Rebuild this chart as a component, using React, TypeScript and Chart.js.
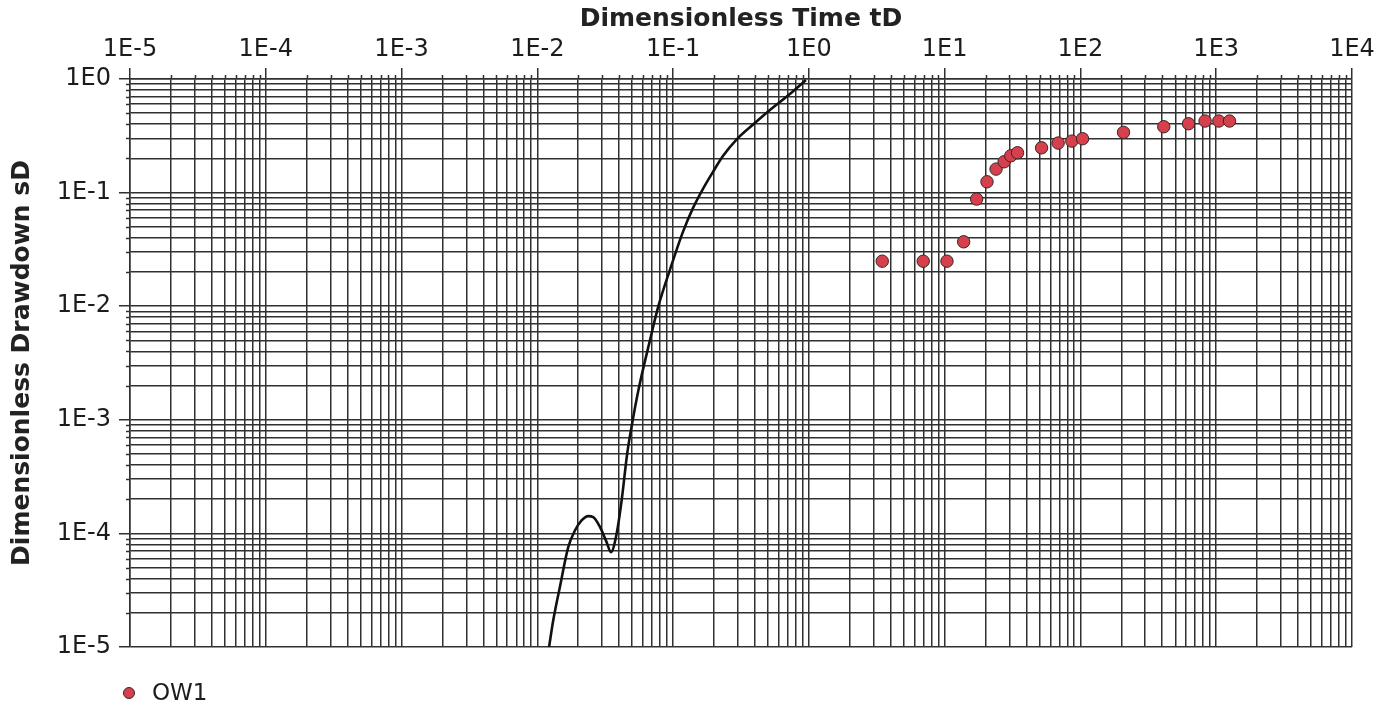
import React, { useEffect, useRef } from 'react';
import { Chart, registerables } from 'chart.js';

Chart.register(...registerables);

// Axis decades (powers of ten) and their printed labels
const X_DECADES = [-5, -4, -3, -2, -1, 0, 1, 2, 3, 4];
const X_TICK_LABELS = ['1E-5', '1E-4', '1E-3', '1E-2', '1E-1', '1E0', '1E1', '1E2', '1E3', '1E4'];
const Y_DECADES = [-5, -4, -3, -2, -1, 0];
const Y_TICK_LABELS = ['1E-5', '1E-4', '1E-3', '1E-2', '1E-1', '1E0'];

// Observation well OW1: dimensionless time and drawdown
const OW1_TD = [3.47, 6.95, 10.4, 13.8, 17.2, 20.5, 23.9, 27.4, 30.7, 34.4, 51.7, 68.5, 86.4, 103.6, 207.6, 411, 625, 828, 1045, 1253];
const OW1_SD = [0.0249, 0.0249, 0.0249, 0.0369, 0.0877, 0.1245, 0.161, 0.1867, 0.211, 0.2243, 0.248, 0.273, 0.284, 0.298, 0.339, 0.38, 0.404, 0.4266, 0.4266, 0.4266];

// Type curve
const CURVE_TD = [
  0.0122, 0.01309, 0.01465, 0.01689, 0.01892, 0.02118, 0.02371, 0.02582, 0.02891, 0.03236, 0.03483, 0.03837,
  0.04178, 0.0459, 0.0504, 0.0562, 0.0675, 0.0776, 0.0946, 0.118, 0.14, 0.1656, 0.1963, 0.2328, 0.2952,
  0.3996, 0.5164, 0.7244, 0.951,
];
const CURVE_SD = [
  1.0e-5, 1.71e-5, 3.36e-5, 7.57e-5, 1.06e-4, 1.3e-4, 1.42e-4, 1.39e-4, 1.14e-4, 8.38e-5, 6.84e-5, 9.94e-5,
  1.95e-4, 5.04e-4, 9.9e-4, 1.95e-3, 5.0e-3, 9.86e-3, 2.08e-2, 0.0449, 0.073, 0.1074, 0.1516, 0.2098, 0.2959,
  0.4094, 0.533, 0.738, 0.98,
];

const FONT = '"DejaVu Sans", Verdana, sans-serif';
const GRID = '#303030';
const TEXT = '#1c1c1c';
const POINT_FILL = '#d63f4c';
const POINT_EDGE = '#3a2626';

const isDecade = (v: number) => Math.abs(Math.log10(v) - Math.round(Math.log10(v))) < 1e-9;

// 1..9 x 10^e for every decade, closing with the last power of ten
function decadeTicks(decades: number[]) {
  const ticks: { value: number; major: boolean }[] = [];
  for (let i = 0; i < decades.length - 1; i++) {
    for (let k = 1; k <= 9; k++) {
      ticks.push({ value: Number((k * Math.pow(10, decades[i])).toPrecision(12)), major: k === 1 });
    }
  }
  ticks.push({ value: Math.pow(10, decades[decades.length - 1]), major: true });
  return ticks;
}

function labelFor(v: number, decades: number[], labels: string[]) {
  if (!isDecade(v)) return '';
  const idx = decades.indexOf(Math.round(Math.log10(v)));
  return idx >= 0 ? labels[idx] : '';
}

// Short outside stubs for the minor (2..9) grid lines
const minorStubs = {
  id: 'minorStubs',
  afterDraw(chart: any) {
    const { ctx, chartArea, scales } = chart;
    ctx.save();
    ctx.strokeStyle = GRID;
    ctx.lineWidth = 1.5;
    ctx.beginPath();
    scales.x.ticks.forEach((t: any) => {
      if (isDecade(t.value)) return;
      const px = Math.round(scales.x.getPixelForValue(t.value)) + 0.5;
      ctx.moveTo(px, chartArea.top - 4);
      ctx.lineTo(px, chartArea.top);
    });
    scales.y.ticks.forEach((t: any) => {
      if (isDecade(t.value)) return;
      const py = Math.round(scales.y.getPixelForValue(t.value)) + 0.5;
      ctx.moveTo(chartArea.left - 4, py);
      ctx.lineTo(chartArea.left, py);
    });
    ctx.stroke();
    ctx.restore();
  },
};

// Legend entry for the observation series, under the plot
const wellLegend = {
  id: 'wellLegend',
  afterDraw(chart: any) {
    const { ctx, chartArea } = chart;
    const ds = chart.data.datasets[1];
    const cx = chartArea.left - 1;
    const cy = chartArea.bottom + 46;
    ctx.save();
    ctx.beginPath();
    ctx.arc(cx, cy, 5.5, 0, Math.PI * 2);
    ctx.fillStyle = ds.backgroundColor;
    ctx.fill();
    ctx.lineWidth = 1;
    ctx.strokeStyle = ds.borderColor;
    ctx.stroke();
    ctx.font = `23px ${FONT}`;
    ctx.fillStyle = TEXT;
    ctx.textBaseline = 'middle';
    ctx.textAlign = 'left';
    ctx.fillText(ds.label, cx + 23, cy + 1);
    ctx.restore();
  },
};

export default function App() {
  const ref = useRef<HTMLCanvasElement>(null);

  useEffect(() => {
    if (!ref.current) return;
    const chart = new Chart(ref.current, {
      type: 'scatter',
      data: {
        datasets: [
          {
            label: 'Type curve',
            data: CURVE_TD.map((t, i) => ({ x: t, y: CURVE_SD[i] })),
            showLine: true,
            borderColor: '#111111',
            borderWidth: 2.6,
            pointRadius: 0,
            cubicInterpolationMode: 'monotone',
            fill: false,
            order: 2,
          },
          {
            label: 'OW1',
            data: OW1_TD.map((t, i) => ({ x: t, y: OW1_SD[i] })),
            showLine: false,
            backgroundColor: POINT_FILL,
            borderColor: POINT_EDGE,
            borderWidth: 1,
            pointRadius: 6.2,
            order: 1,
          },
        ],
      },
      options: {
        responsive: false,
        animation: false,
        layout: { padding: { left: 0, top: 0, right: 40, bottom: 59 } },
        plugins: {
          legend: { display: false },
          tooltip: { enabled: false },
        },
        scales: {
          x: {
            type: 'logarithmic',
            position: 'top',
            min: 1e-5,
            max: 1e4,
            afterBuildTicks: (s: any) => {
              s.ticks = decadeTicks(X_DECADES);
            },
            afterFit: (s: any) => {
              s.height = 79;
            },
            ticks: {
              autoSkip: false,
              maxRotation: 0,
              minRotation: 0,
              padding: 4,
              color: TEXT,
              font: { family: FONT, size: 24 },
              callback: (v: any) => labelFor(Number(v), X_DECADES, X_TICK_LABELS),
            },
            grid: {
              color: GRID,
              lineWidth: 1.5,
              tickLength: 11,
              tickColor: (c: any) => (c.tick && isDecade(c.tick.value) ? GRID : 'rgba(0,0,0,0)'),
            },
            border: { color: GRID, width: 1.5 },
            title: {
              display: true,
              text: 'Dimensionless Time tD',
              color: '#222222',
              font: { family: FONT, size: 25, weight: 'bold' },
              padding: { top: 4, bottom: 0 },
            },
          },
          y: {
            type: 'logarithmic',
            position: 'left',
            min: 1e-5,
            max: 1,
            afterBuildTicks: (s: any) => {
              s.ticks = decadeTicks(Y_DECADES);
            },
            afterFit: (s: any) => {
              s.width = 130;
            },
            ticks: {
              autoSkip: false,
              padding: 8,
              color: TEXT,
              font: { family: FONT, size: 24 },
              callback: (v: any) => labelFor(Number(v), Y_DECADES, Y_TICK_LABELS),
            },
            grid: {
              color: GRID,
              lineWidth: 1.5,
              tickLength: 11,
              tickColor: (c: any) => (c.tick && isDecade(c.tick.value) ? GRID : 'rgba(0,0,0,0)'),
            },
            border: { color: GRID, width: 1.5 },
            title: {
              display: true,
              text: 'Dimensionless Drawdown sD',
              color: '#222222',
              font: { family: FONT, size: 25, weight: 'bold' },
              padding: { top: 7, bottom: 0 },
            },
          },
        },
      } as any,
      plugins: [minorStubs, wellLegend],
    });
    return () => chart.destroy();
  }, []);

  return (
    <div style={{ position: 'fixed', left: 0, top: 0, width: 1392, height: 706, background: '#ffffff' }}>
      <canvas ref={ref} width={1392} height={706} style={{ display: 'block' }} />
    </div>
  );
}
